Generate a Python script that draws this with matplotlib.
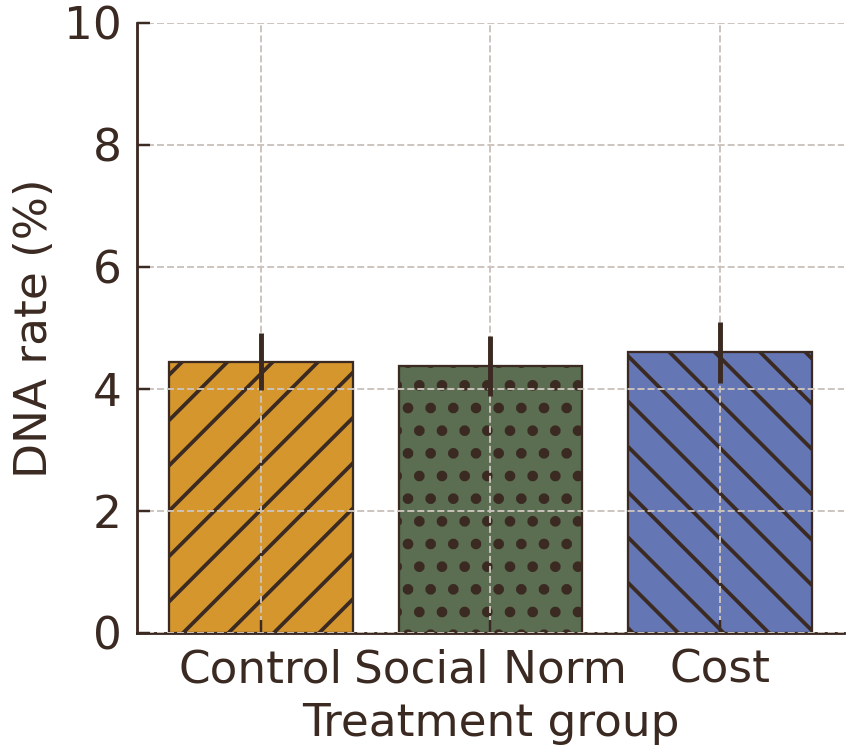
import numpy as np
import matplotlib
matplotlib.use("Agg")
import matplotlib.pyplot as plt

groups = ["Control", "Social Norm", "Cost"]
rates = [4.44, 4.37, 4.60]
errs = [0.47, 0.49, 0.50]
colors = ["#D6962E", "#5B6E52", "#6576B4"]
hatches = ["/", ".", "\\"]
hatch_widths = [2.0, 3.2, 2.0]

ink = "#3B2A22"
plt.rcParams["font.family"] = "DejaVu Sans"
plt.rcParams["font.size"] = 24
plt.rcParams["text.color"] = ink
plt.rcParams["axes.labelcolor"] = ink
plt.rcParams["xtick.color"] = ink
plt.rcParams["ytick.color"] = ink
plt.rcParams["hatch.linewidth"] = 2.0
plt.rcParams["hatch.color"] = ink

fig = plt.figure(figsize=(6.25, 5.56), dpi=136)
ax = fig.add_axes([0.161, 0.163, 0.832, 0.807])

x = np.arange(len(groups))
bars = ax.bar(x, rates, width=0.8, color=colors, edgecolor=ink, linewidth=1.2, zorder=1)
for b, h, hw in zip(bars, hatches, hatch_widths):
    b.set_hatch(h)
    if hasattr(b, "set_hatch_linewidth"):
        b.set_hatch_linewidth(hw)
ax.errorbar(x, rates, yerr=errs, fmt="none", ecolor=ink, elinewidth=2.6, capsize=0, zorder=4)

ax.set_ylim(0, 10)
ax.set_yticks([0, 2, 4, 6, 8, 10])
ax.set_xticks(x)
ax.set_xticklabels(groups)
ax.set_xlabel("Treatment group", labelpad=6)
ax.set_ylabel("DNA rate (%)")

ax.set_axisbelow(False)
ax.grid(True, linestyle="--", color="#CBC3BD", linewidth=1.0, zorder=2)
ax.tick_params(direction="in", length=7, width=1.3, pad=8)
for s in ["top", "right"]:
    ax.spines[s].set_visible(False)
for s in ["left", "bottom"]:
    ax.spines[s].set_color(ink)
    ax.spines[s].set_linewidth(1.5)

fig.savefig("out.png", dpi=136)
